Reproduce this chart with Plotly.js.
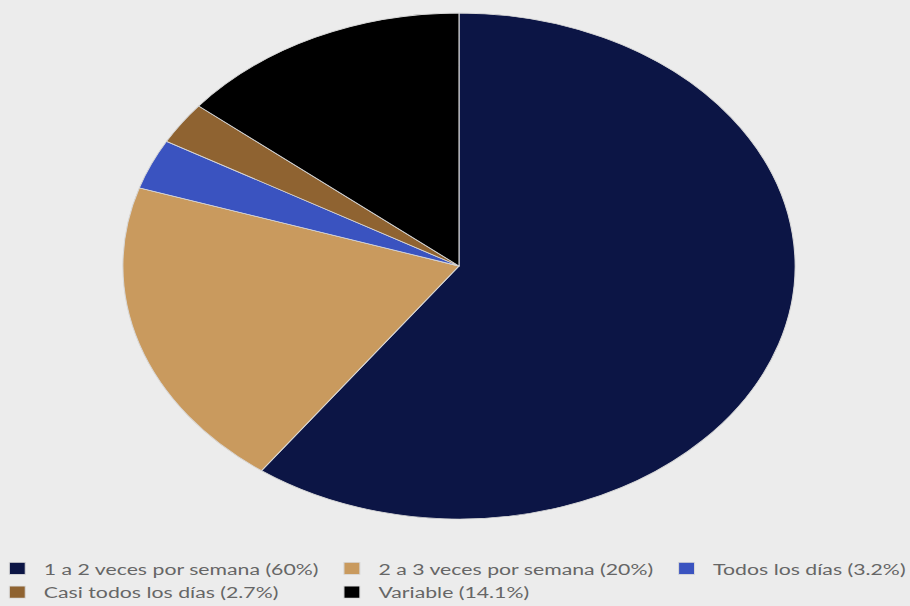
<!DOCTYPE html>
<html>
<head>
<meta charset="utf-8">
<script src="https://cdn.plot.ly/plotly-3.0.1.min.js"></script>
<style>
  html, body { margin: 0; padding: 0; background: #ececec; overflow: hidden; }
  #wrap { width: 910px; height: 606px; overflow: hidden; position: relative; }
  #chart { width: 760px; height: 606px; transform: scaleX(1.3285); transform-origin: 0 0; }
</style>
</head>
<body>
<div id="wrap"><div id="chart"></div></div>
<script>
const labels = [
  "1 a 2 veces por semana (60%)",
  "2 a 3 veces por semana (20%)",
  "Todos los días (3.2%)",
  "Casi todos los días (2.7%)",
  "Variable (14.1%)"
];
const values = [60, 20, 3.2, 2.7, 14.1];
const colors = ["#0c1545", "#c99a5e", "#3a53c0", "#8f6331", "#000000"];

const data = [{
  type: "pie",
  labels: labels,
  values: values,
  sort: false,
  direction: "clockwise",
  rotation: 0,
  textinfo: "none",
  hoverinfo: "none",
  marker: { colors: colors, line: { color: "#d8d8d8", width: 0.8 } },
  domain: { x: [0.0, 0.9092], y: [0, 1] }
}];

const layout = {
  width: 760,
  height: 606,
  margin: { l: 0, r: 0, t: 13, b: 87, autoexpand: false },
  paper_bgcolor: "#ececec",
  plot_bgcolor: "#ececec",
  showlegend: true,
  legend: {
    orientation: "h",
    xref: "paper", yref: "paper",
    x: -0.0092, xanchor: "left",
    y: -0.064, yanchor: "top",
    font: { family: "Lato, sans-serif", size: 16, color: "#666666" },
    itemclick: false, itemdoubleclick: false,
    traceorder: "normal"
  },
  font: { family: "Lato, sans-serif" }
};

Plotly.newPlot("chart", data, layout, { displayModeBar: false, staticPlot: true });
</script>
</body>
</html>
